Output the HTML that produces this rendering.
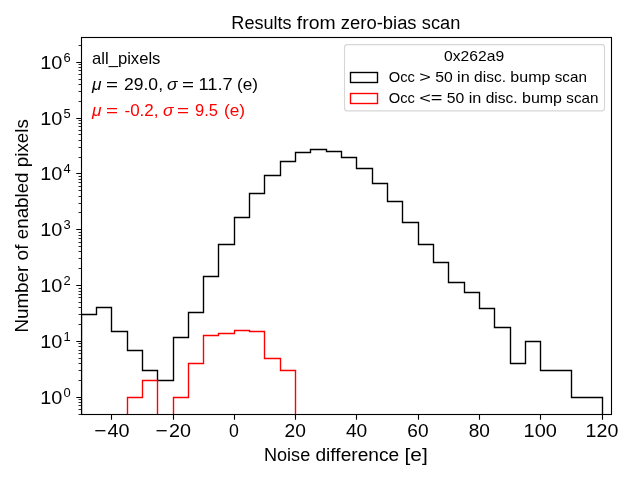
<!DOCTYPE html>
<html lang="en"><head><meta charset="utf-8"><title>Results from zero-bias scan</title>
<style>
html,body{margin:0;padding:0;background:#ffffff;}
body{width:640px;height:480px;overflow:hidden;}
svg{display:block;will-change:transform;}
text{font-family:"Liberation Sans",sans-serif;}
</style></head>
<body>
<svg width="640" height="480" viewBox="0 0 640 480">
<rect x="0" y="0" width="640" height="480" fill="#ffffff"/>
<clipPath id="c"><rect x="81.5" y="37.5" width="530.0" height="377.0"/></clipPath>
<g clip-path="url(#c)" fill="none" stroke-width="1.39" stroke-linejoin="miter">
<path d="M81.5 430.0V314.5H96.5V307.5H111.5V331.5H127.5V350.5H142.5V370.5H157.5V380.5H173.5V337.5H188.5V312.5H203.5V276.5H218.5V244.5H234.5V217.5H249.5V193.5H264.5V175.5H280.5V161.5H295.5V152.5H310.5V149.5H326.5V151.5H341.5V157.5H356.5V168.5H372.5V183.5H387.5V201.5H402.5V222.5H418.5V244.5H433.5V262.5H448.5V282.5H464.5V292.5H479.5V308.5H494.5V327.5H510.5V363.5H525.5V341.5H540.5V370.5H556.5V370.5H571.5V397.5H586.5V397.5H602.5V430.0" stroke="#000000"/>
<path d="M127.5 430.0V397.5H142.5V380.5H157.5V430.0H173.5V397.5H188.5V363.5H203.5V335.5H218.5V333.5H234.5V330.5H249.5V331.5H264.5V358.5H280.5V370.5H295.5V430.0" stroke="#ff0000"/>
</g>
<path d="M111.5 414.5v5.2M173.5 414.5v5.2M234.5 414.5v5.2M295.5 414.5v5.2M356.5 414.5v5.2M418.5 414.5v5.2M479.5 414.5v5.2M540.5 414.5v5.2M602.5 414.5v5.2M81.5 397.5h-5.2M81.5 341.5h-5.2M81.5 285.5h-5.2M81.5 229.5h-5.2M81.5 173.5h-5.2M81.5 118.5h-5.2M81.5 62.5h-5.2" stroke="#000" stroke-width="1.11" fill="none"/>
<path d="M81.5 414.5h-3.0M81.5 409.5h-3.0M81.5 405.5h-3.0M81.5 402.5h-3.0M81.5 399.5h-3.0M81.5 380.5h-3.0M81.5 370.5h-3.0M81.5 363.5h-3.0M81.5 358.5h-3.0M81.5 353.5h-3.0M81.5 350.5h-3.0M81.5 346.5h-3.0M81.5 343.5h-3.0M81.5 324.5h-3.0M81.5 314.5h-3.0M81.5 307.5h-3.0M81.5 302.5h-3.0M81.5 297.5h-3.0M81.5 294.5h-3.0M81.5 291.5h-3.0M81.5 288.5h-3.0M81.5 268.5h-3.0M81.5 258.5h-3.0M81.5 251.5h-3.0M81.5 246.5h-3.0M81.5 242.5h-3.0M81.5 238.5h-3.0M81.5 235.5h-3.0M81.5 232.5h-3.0M81.5 212.5h-3.0M81.5 203.5h-3.0M81.5 196.5h-3.0M81.5 190.5h-3.0M81.5 186.5h-3.0M81.5 182.5h-3.0M81.5 179.5h-3.0M81.5 176.5h-3.0M81.5 157.5h-3.0M81.5 147.5h-3.0M81.5 140.5h-3.0M81.5 134.5h-3.0M81.5 130.5h-3.0M81.5 126.5h-3.0M81.5 123.5h-3.0M81.5 120.5h-3.0M81.5 101.5h-3.0M81.5 91.5h-3.0M81.5 84.5h-3.0M81.5 79.5h-3.0M81.5 74.5h-3.0M81.5 70.5h-3.0M81.5 67.5h-3.0M81.5 64.5h-3.0M81.5 45.5h-3.0" stroke="#000" stroke-width="0.83" fill="none"/>
<rect x="81.5" y="37.5" width="530.0" height="377.0" fill="none" stroke="#000" stroke-width="1.11"/>
<text y="28.6" font-size="17.6" fill="#000"><tspan x="231.35" textLength="60.25" lengthAdjust="spacingAndGlyphs">Results</tspan> <tspan x="296.85" textLength="38.75" lengthAdjust="spacingAndGlyphs">from</tspan> <tspan x="340.85" textLength="75.75" lengthAdjust="spacingAndGlyphs">zero-bias</tspan> <tspan x="421.85" textLength="38.5" lengthAdjust="spacingAndGlyphs">scan</tspan></text>
<text y="436.6" font-size="18.4" fill="#000"><tspan x="94.23" textLength="12.2" lengthAdjust="spacingAndGlyphs">−</tspan> <tspan x="107.56" textLength="22.0" lengthAdjust="spacingAndGlyphs">40</tspan></text>
<text y="436.6" font-size="18.4" fill="#000"><tspan x="155.58" textLength="12.2" lengthAdjust="spacingAndGlyphs">−</tspan> <tspan x="168.91" textLength="22.0" lengthAdjust="spacingAndGlyphs">20</tspan></text>
<text y="436.6" font-size="18.4" fill="#000"><tspan x="229.03" textLength="9.85" lengthAdjust="spacingAndGlyphs">0</tspan></text>
<text y="436.6" font-size="18.4" fill="#000"><tspan x="284.62" textLength="21.35" lengthAdjust="spacingAndGlyphs">20</tspan></text>
<text y="436.6" font-size="18.4" fill="#000"><tspan x="345.96" textLength="21.35" lengthAdjust="spacingAndGlyphs">40</tspan></text>
<text y="436.6" font-size="18.4" fill="#000"><tspan x="407.37" textLength="21.22" lengthAdjust="spacingAndGlyphs">60</tspan></text>
<text y="436.6" font-size="18.4" fill="#000"><tspan x="468.71" textLength="21.22" lengthAdjust="spacingAndGlyphs">80</tspan></text>
<text y="436.6" font-size="18.4" fill="#000"><tspan x="523.63" textLength="33.27" lengthAdjust="spacingAndGlyphs">100</tspan></text>
<text y="436.6" font-size="18.4" fill="#000"><tspan x="585.64" textLength="32.73" lengthAdjust="spacingAndGlyphs">120</tspan></text>
<text y="403.6" font-size="18.4" fill="#000"><tspan x="40.3" textLength="22.1" lengthAdjust="spacingAndGlyphs">10</tspan></text>
<text y="397.2" font-size="12.6" fill="#000"><tspan x="63.4" textLength="7.2" lengthAdjust="spacingAndGlyphs">0</tspan></text>
<text y="347.6" font-size="18.4" fill="#000"><tspan x="40.3" textLength="22.1" lengthAdjust="spacingAndGlyphs">10</tspan></text>
<text y="341.2" font-size="12.6" fill="#000"><tspan x="63.4" textLength="7.2" lengthAdjust="spacingAndGlyphs">1</tspan></text>
<text y="291.6" font-size="18.4" fill="#000"><tspan x="40.3" textLength="22.1" lengthAdjust="spacingAndGlyphs">10</tspan></text>
<text y="285.2" font-size="12.6" fill="#000"><tspan x="63.4" textLength="7.2" lengthAdjust="spacingAndGlyphs">2</tspan></text>
<text y="235.6" font-size="18.4" fill="#000"><tspan x="40.3" textLength="22.1" lengthAdjust="spacingAndGlyphs">10</tspan></text>
<text y="229.2" font-size="12.6" fill="#000"><tspan x="63.4" textLength="7.2" lengthAdjust="spacingAndGlyphs">3</tspan></text>
<text y="179.6" font-size="18.4" fill="#000"><tspan x="40.3" textLength="22.1" lengthAdjust="spacingAndGlyphs">10</tspan></text>
<text y="173.2" font-size="12.6" fill="#000"><tspan x="63.4" textLength="7.2" lengthAdjust="spacingAndGlyphs">4</tspan></text>
<text y="124.6" font-size="18.4" fill="#000"><tspan x="40.3" textLength="22.1" lengthAdjust="spacingAndGlyphs">10</tspan></text>
<text y="118.2" font-size="12.6" fill="#000"><tspan x="63.4" textLength="7.2" lengthAdjust="spacingAndGlyphs">5</tspan></text>
<text y="68.6" font-size="18.4" fill="#000"><tspan x="40.3" textLength="22.1" lengthAdjust="spacingAndGlyphs">10</tspan></text>
<text y="62.2" font-size="12.6" fill="#000"><tspan x="63.4" textLength="7.2" lengthAdjust="spacingAndGlyphs">6</tspan></text>
<text y="461.0" font-size="17.6" fill="#000"><tspan x="263.97" textLength="46.25" lengthAdjust="spacingAndGlyphs">Noise</tspan> <tspan x="315.47" textLength="83.75" lengthAdjust="spacingAndGlyphs">difference</tspan> <tspan x="404.47" textLength="23.25" lengthAdjust="spacingAndGlyphs">[e]</tspan></text>
<g transform="translate(27.8,332.6) rotate(-90)"><text y="0" font-size="17.6" fill="#000"><tspan x="0" textLength="66.88" lengthAdjust="spacingAndGlyphs">Number</tspan> <tspan x="72.12" textLength="16.0" lengthAdjust="spacingAndGlyphs">of</tspan> <tspan x="93.38" textLength="66.75" lengthAdjust="spacingAndGlyphs">enabled</tspan> <tspan x="165.38" textLength="48.12" lengthAdjust="spacingAndGlyphs">pixels</tspan></text></g>
<text y="63.8" font-size="16.1" fill="#000"><tspan x="92.0" textLength="68.4" lengthAdjust="spacingAndGlyphs">all_pixels</tspan></text>
<text y="90.0" font-size="16.1" fill="#000"><tspan x="92.0" textLength="9.5" lengthAdjust="spacingAndGlyphs" font-style="italic">μ</tspan> <tspan x="106" textLength="12" lengthAdjust="spacingAndGlyphs">=</tspan> <tspan x="124" textLength="39" lengthAdjust="spacingAndGlyphs">29.0,</tspan> <tspan x="167" textLength="10.5" lengthAdjust="spacingAndGlyphs" font-style="italic">σ</tspan> <tspan x="182" textLength="12" lengthAdjust="spacingAndGlyphs">=</tspan> <tspan x="198.5" textLength="34.3" lengthAdjust="spacingAndGlyphs">11.7</tspan> <tspan x="237" textLength="21" lengthAdjust="spacingAndGlyphs">(e)</tspan></text>
<text y="116.0" font-size="16.1" fill="#ff0000"><tspan x="92.0" textLength="9.5" lengthAdjust="spacingAndGlyphs" font-style="italic">μ</tspan> <tspan x="106" textLength="12" lengthAdjust="spacingAndGlyphs">=</tspan> <tspan x="124.5" textLength="34" lengthAdjust="spacingAndGlyphs">-0.2,</tspan> <tspan x="163" textLength="10.5" lengthAdjust="spacingAndGlyphs" font-style="italic">σ</tspan> <tspan x="177" textLength="12" lengthAdjust="spacingAndGlyphs">=</tspan> <tspan x="195" textLength="23" lengthAdjust="spacingAndGlyphs">9.5</tspan> <tspan x="224" textLength="21" lengthAdjust="spacingAndGlyphs">(e)</tspan></text>
<rect x="344.5" y="44.6" width="260" height="66.3" rx="2.8" ry="2.8" fill="#ffffff" fill-opacity="0.8" stroke="#cccccc" stroke-opacity="0.8" stroke-width="1.11"/>
<rect x="350.5" y="72.5" width="27" height="10" fill="none" stroke="#000" stroke-width="1.39"/>
<rect x="350.5" y="93.5" width="27" height="10" fill="none" stroke="#ff0000" stroke-width="1.39"/>
<text y="61.0" font-size="14.6" fill="#000"><tspan x="444.0" textLength="60.1" lengthAdjust="spacingAndGlyphs">0x262a9</tspan></text>
<text y="82.0" font-size="14.6" fill="#000"><tspan x="388.75" textLength="26.12" lengthAdjust="spacingAndGlyphs">Occ</tspan> <tspan x="419.25" textLength="11.62" lengthAdjust="spacingAndGlyphs">&gt;</tspan> <tspan x="435.25" textLength="17.5" lengthAdjust="spacingAndGlyphs">50</tspan> <tspan x="457.13" textLength="12.62" lengthAdjust="spacingAndGlyphs">in</tspan> <tspan x="474.13" textLength="31.88" lengthAdjust="spacingAndGlyphs">disc.</tspan> <tspan x="510.37" textLength="40.0" lengthAdjust="spacingAndGlyphs">bump</tspan> <tspan x="554.75" textLength="32.12" lengthAdjust="spacingAndGlyphs">scan</tspan></text>
<text y="103.0" font-size="14.6" fill="#000"><tspan x="388.75" textLength="26.12" lengthAdjust="spacingAndGlyphs">Occ</tspan> <tspan x="419.25" textLength="23.25" lengthAdjust="spacingAndGlyphs">&lt;=</tspan> <tspan x="446.87" textLength="17.5" lengthAdjust="spacingAndGlyphs">50</tspan> <tspan x="468.75" textLength="12.62" lengthAdjust="spacingAndGlyphs">in</tspan> <tspan x="485.75" textLength="31.88" lengthAdjust="spacingAndGlyphs">disc.</tspan> <tspan x="522.0" textLength="40.0" lengthAdjust="spacingAndGlyphs">bump</tspan> <tspan x="566.37" textLength="32.12" lengthAdjust="spacingAndGlyphs">scan</tspan></text>
</svg>
</body></html>
